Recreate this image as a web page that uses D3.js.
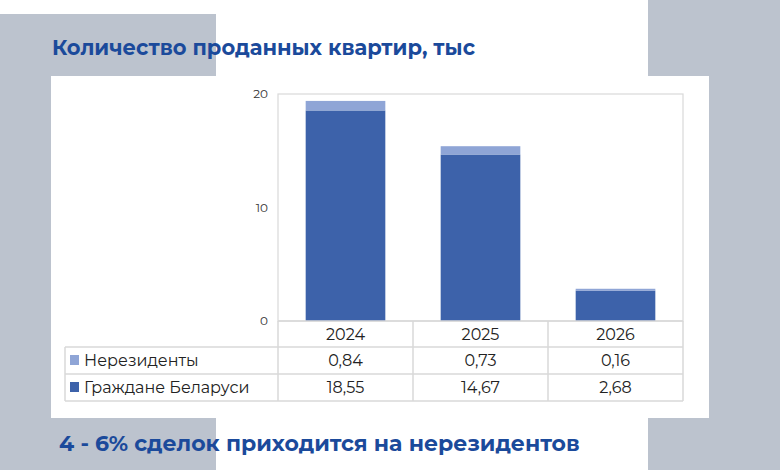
<!DOCTYPE html>
<html><head><meta charset="utf-8">
<script src="https://cdn.jsdelivr.net/npm/d3@7"></script>
<style>body{margin:0;background:#fff}svg{display:block}</style>
</head><body><svg id="c" width="780" height="470"></svg>
<script>
const categories = ["2024","2025","2026"];
const nonResidents = [0.84,0.73,0.16];
const citizens = [18.55,14.67,2.68];
const seriesNames = ["Нерезиденты","Граждане Беларуси"];
const yTicks = [0,10,20];

const svg = d3.select("#c");
const font = "Montserrat, 'Open Sans', 'Noto Sans', sans-serif";
svg.append("rect").attr("x",0).attr("y",14).attr("width",216).attr("height",456).attr("fill","#bcc3ce");
svg.append("rect").attr("x",648).attr("y",0).attr("width",132).attr("height",470).attr("fill","#bcc3ce");
svg.append("rect").attr("x",51).attr("y",76).attr("width",658).attr("height",342).attr("fill","#fff");
svg.append("text").attr("x",52).attr("y",55).text("Количество проданных квартир, тыс")
  .attr("font-family",font).attr("font-weight",700).attr("font-size",21).attr("fill","#1b4a9b");
svg.append("text").attr("x",59).attr("y",451).text("4 - 6% сделок приходится на нерезидентов")
  .attr("font-family",font).attr("font-weight",700).attr("font-size",22).attr("fill","#1b4a9b");

const x0=278,x1=683,yTop=94,yBot=321;
const x = d3.scaleBand().domain(categories).range([x0,x1]).paddingInner(0.41).paddingOuter(0.205);
const xc = d3.scaleBand().domain(categories).range([x0,x1]);
const y = d3.scaleLinear().domain([0,20]).range([yBot,yTop]);
const line="#d9d9d9";
svg.append("rect").attr("x",x0).attr("y",yTop).attr("width",x1-x0).attr("height",yBot-yTop).attr("fill","none").attr("stroke",line).attr("stroke-width",1.2);
const ax = svg.append("g").attr("transform",`translate(${x0-10},0)`).call(d3.axisLeft(y).tickValues(yTicks).tickSize(0).tickPadding(0));
ax.select(".domain").remove();
ax.selectAll("text").attr("font-family",font).attr("font-size",12).attr("fill","#333");
const colors=["#8fa5d6","#3d62aa"];
categories.forEach((c,i)=>{
  svg.append("rect").attr("x",x(c)).attr("width",x.bandwidth()).attr("y",y(citizens[i])).attr("height",yBot-y(citizens[i])).attr("fill",colors[1]);
  svg.append("rect").attr("x",x(c)).attr("width",x.bandwidth()).attr("y",y(citizens[i]+nonResidents[i])).attr("height",y(citizens[i])-y(citizens[i]+nonResidents[i])).attr("fill",colors[0]);
});
// table
const rows=[yBot,347,374,401];
const g=svg.append("g").attr("stroke",line).attr("stroke-width",1.5);
g.append("line").attr("x1",x0).attr("x2",x1).attr("y1",yBot).attr("y2",yBot);
[rows[1],rows[2],rows[3]].forEach(r=>g.append("line").attr("x1",65).attr("x2",x1).attr("y1",r).attr("y2",r));
g.append("line").attr("x1",65).attr("x2",65).attr("y1",rows[1]).attr("y2",rows[3]);
categories.concat(["end"]).forEach((c,i)=>{const xx=c==="end"?x1:xc(c);g.append("line").attr("x1",xx).attr("x2",xx).attr("y1",yBot).attr("y2",rows[3]);});
const tf=(s,xx,yy,anchor)=>svg.append("text").attr("x",xx).attr("y",yy).text(s).attr("text-anchor",anchor||"middle").attr("font-family",font).attr("font-size",16).attr("fill","#222");
categories.forEach((c,i)=>{
  const cx=xc(c)+xc.bandwidth()/2;
  tf(c,cx,340);
  tf(String(nonResidents[i]).replace(".",","),cx,366);
  tf(String(citizens[i]).replace(".",","),cx,393);
});
[nonResidents,citizens].forEach((_,j)=>{
  const ry=rows[1+j];
  svg.append("rect").attr("x",70).attr("y",ry+8).attr("width",9).attr("height",10).attr("fill",colors[j]);
  tf(seriesNames[j],84,ry+19,"start");
});
</script></body></html>
